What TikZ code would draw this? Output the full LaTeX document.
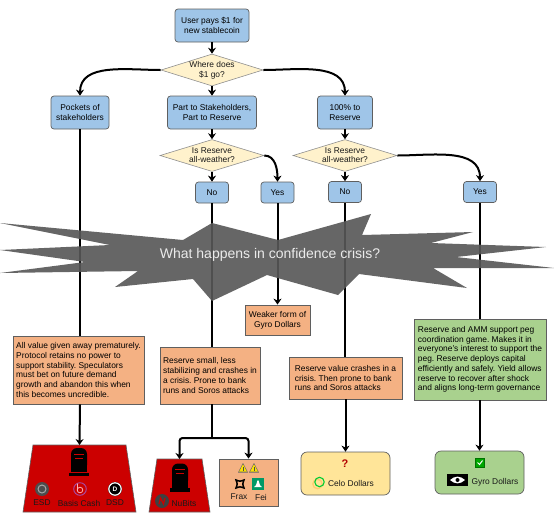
\documentclass[tikz,border=0pt]{standalone}
\usepackage{fontspec}
\setmainfont{Liberation Sans}
\usepackage{tikz}
\usetikzlibrary{arrows.meta, calc, shapes.geometric}
\definecolor{stepblue}{HTML}{9FC5E8}
\definecolor{askcream}{HTML}{FFF2CC}
\definecolor{badorange}{HTML}{F4B183}
\definecolor{goodgreen}{HTML}{A9D18E}
\definecolor{celoyellow}{HTML}{FFE599}
\definecolor{deadred}{HTML}{CC0000}
\definecolor{edgegray}{HTML}{5F5F5F}

\begin{document}
\begin{tikzpicture}[
    x=1pt, y=-1pt,
    every node/.style={font=\fontsize{8.4}{9.7}\selectfont\frenchspacing},
    stepbox/.style={draw=edgegray, fill=stepblue, rounded corners=3, align=center, inner sep=0, line width=0.7pt},
    decision/.style={draw=edgegray!70, fill=askcream, diamond, inner sep=0, line width=0.6pt},
    asktext/.style={align=center, inner sep=0, text=black!90},
    textbox/.style={draw=edgegray, fill=badorange, align=left, inner sep=0, line width=0.8pt},
    outcome/.style={draw=edgegray, rounded corners=6, inner sep=0, line width=0.7pt},
    grave/.style={draw=edgegray, fill=deadred, line width=0.6pt},
    coinlabel/.style={inner sep=0, text=black!90},
    flow/.style={line width=2pt, -{Stealth[length=6pt, width=8pt]}},
    plainflow/.style={line width=2pt},
    tombstone/.pic={
      \fill[black, rounded corners=6] (-8,9) -- (-8,-14) -- (8,-14) -- (8,9) -- cycle;
      \fill[black] (-8,-2) rectangle (8,10);
      \fill[black] (-10,10.5) rectangle (10,14);
      \fill[deadred] (-5,-8.5) rectangle (5,-7.5);
      \fill[deadred] (-4,-4.5) rectangle (4,-3.5);
    },
    warnsign/.pic={
      \fill[black!60, line join=round] (0,-5) -- (5,4.5) -- (-5,4.5) -- cycle;
      \fill[yellow!85!orange] (0,-3.7) -- (3.9,3.7) -- (-3.9,3.7) -- cycle;
      \fill[black!70] (-0.5,-1.2) rectangle (0.5,1.5);
      \fill[black!70] (-0.5,2.2) rectangle (0.5,3.2);
    }
]
\useasboundingbox (0,0) rectangle (554,523);
% top of the flow
\node[stepbox, minimum width=74, minimum height=33] (user) at (212,25.5) {User pays \$1 for\\new stablecoin};
\node[decision, minimum width=102, minimum height=32] (where) at (212,70) {};
\node[asktext] (wheretext) at (212,70) {Where does\\\$1 go?};
\node[stepbox, minimum width=58, minimum height=33] (pockets) at (80,112.5) {Pockets of\\stakeholders};
\node[stepbox, minimum width=89, minimum height=33] (part) at (212,112.5) {Part to Stakeholders,\\Part to Reserve};
\node[stepbox, minimum width=55, minimum height=33] (full) at (345,112.5) {100\% to\\Reserve};
% reserve questions
\foreach \r/\x in {a/212, b/345} {
  \node[decision, minimum width=104, minimum height=32] (ask\r) at (\x,155.5) {};
  \node[asktext] (ask\r text) at (\x,155) {Is Reserve\\all-weather?};
}
\node[stepbox, minimum width=33, minimum height=21] (noa) at (212,192.5) {No};
\node[stepbox, minimum width=33, minimum height=21] (yesa) at (277.5,192.5) {Yes};
\node[stepbox, minimum width=33, minimum height=21] (nob) at (345,192) {No};
\node[stepbox, minimum width=33, minimum height=21] (yesb) at (480,192) {Yes};
% what happens afterwards
\node[textbox, minimum width=131, minimum height=68] (allvalue) at (78.5,370)
  {All value given away prematurely.\\Protocol retains no power to\\support stability. Speculators\\must bet on future demand\\growth and abandon this when\\this becomes uncredible.};
\node[textbox, minimum width=100, minimum height=57] (rsmall) at (210,375.5)
  {Reserve small, less\\stabilizing and crashes in\\a crisis. Prone to bank\\runs and Soros attacks};
\node[textbox, minimum width=65, minimum height=30, align=center] (weaker) at (277.5,320)
  {Weaker form of\\Gyro Dollars};
\node[textbox, minimum width=113, minimum height=42] (rvalue) at (345.5,378)
  {Reserve value crashes in a\\crisis. Then prone to bank\\runs and Soros attacks};
\node[textbox, fill=goodgreen, minimum width=132, minimum height=81] (reserveamm) at (480,359.5)
  {Reserve and AMM support peg\\coordination game. Makes it in\\everyone's interest to support the\\peg. Reserve deploys capital\\efficiently and safely. Yield allows\\reserve to recover after shock\\and aligns long-term governance};
% end results
\draw[grave] (33,445) -- (126,445) -- (136,512) -- (23,512) -- cycle;
\draw[grave] (157,459) -- (202,459) -- (210,512) -- (149,512) -- cycle;
\coordinate (gravea) at (79.5,445);
\coordinate (graveb) at (179.5,459);
\node[textbox, minimum width=59, minimum height=47] (fraxbox) at (248.5,482.5) {};
\node[outcome, fill=celoyellow, minimum width=89, minimum height=43] (celobox) at (345.5,473.5) {};
\node[outcome, fill=goodgreen, minimum width=89, minimum height=43] (gyrobox) at (479.5,472.5) {};
\coordinate (split) at (212,438);
% connectors
\draw[flow] (user) -- (where);
\draw[flow] (where) -- (part);
\draw[flow] (where.west) to[out=180, in=90] (pockets.north);
\draw[flow] (where.east) to[out=0, in=90] (full.north);
\draw[flow] (part) -- (aska);
\draw[flow] (full) -- (askb);
\draw[flow] (aska) -- (noa);
\draw[flow] (askb) -- (nob);
\draw[flow] (aska.east) to[out=0, in=90] (yesa.north);
\draw[flow] (askb.east) to[out=0, in=90] (yesb.north);
\draw[plainflow] (pockets) -- (allvalue.north -| pockets);
\draw[plainflow] (noa) -- (noa |- rsmall.north);
\draw[plainflow] (nob) -- (nob |- rvalue.north);
\draw[plainflow] (yesb) -- (reserveamm);
\draw[flow] (yesa) -- (weaker);
\draw[flow] (allvalue.south -| pockets) -- (gravea);
\draw[plainflow] (split |- rsmall.south) -- (split);
\draw[flow, rounded corners=3] (split) -| (graveb);
\draw[flow, rounded corners=3] (split) -| (fraxbox.north);
\draw[flow] (rvalue.south -| celobox) -- (celobox);
\draw[flow] (reserveamm.south -| gyrobox) -- (gyrobox);
% the crisis star
\fill[black!66, opacity=0.91] (0,223) -- (183,240) -- (212,223) -- (278,240) -- (371,214) -- (362,235)
  -- (473,232) -- (431,243) -- (546,247) -- (456,257) -- (554,268) -- (433,268) -- (467,288)
  -- (359,274) -- (338,295) -- (267,275) -- (212,301) -- (193,279) -- (115,287) -- (138,271) -- (0,273)
  -- (85,262) -- (0,250) -- (110,245) -- cycle;
\node[font=\fontsize{14}{16}\selectfont, text=black!8, inner sep=0] (crisis) at (270,255) {What happens in confidence crisis?};
% left grave
\pic at (79,462) {tombstone};
\fill[black!70] (42,489) circle (7);
\draw[black!35, line width=1pt] (42,489) circle (4);
\draw[violet!70!white, line width=0.9pt] (80,489) circle (6.3);
\draw[white!70!red, line width=0.8pt] (77.5,483.5) -- (77.5,491) (80,490) circle (2.8);
\fill[black] (115,489) circle (7);
\draw[white, line width=1.2pt] (115,489) circle (6.2);
\node[coinlabel, font=\fontsize{6.5}{7}\selectfont\bfseries, text=white] (dsdmark) at (115,489) {D};
\foreach \nm/\x/\t in {esd/42/ESD, basis/79/Basis Cash, dsd/115/DSD} {
  \node[coinlabel] (\nm) at (\x,503) {\t};
}
% right grave
\pic at (180,477.5) {tombstone};
\fill[black!75] (162,501) circle (7);
\draw[deadred, line width=1.2pt] (159,504) -- (160.5,498) -- (163.5,504) -- (165,498);
\node[coinlabel] (nubits) at (184,503) {NuBits};
% frax and fei
\pic at (243,468) {warnsign};
\pic at (254,468) {warnsign};
\draw[black, line width=1.5pt, fill=badorange] (236,480) .. controls (240,481.5) .. (244,480) .. controls (242.5,484) .. (244,488) .. controls (240,486.5) .. (236,488) .. controls (237.5,484) .. (236,480) -- cycle;
\fill[teal!80!green] (252,478) rectangle (264,490);
\fill[white] (254,487) .. controls (257,486) and (256.5,481) .. (258,480) .. controls (259.5,481) and (259,486) .. (262,487) -- cycle;
\node[coinlabel] (frax) at (239,497) {Frax};
\node[coinlabel] (fei) at (261,497) {Fei};
% celo
\node[coinlabel, font=\fontsize{11}{12}\selectfont\bfseries, text=red!70!black] (unsure) at (345,463.5) {?};
\draw[celoyellow!75!orange, line width=1.3pt] (317.5,484) circle (4.7);
\draw[green!60!teal, line width=1.1pt] (319.5,482) circle (4.7);
\node[coinlabel] (celo) at (351,483.5) {Celo Dollars};
% gyro
\draw[green!45!black, fill=green!65!black, line width=0.5pt] (475.5,458) rectangle (484.5,467);
\draw[white, line width=1pt] (477.5,462.5) -- (479.5,464.5) -- (482.5,460.5);
\fill[black] (447,474) rectangle (468,486);
\fill[white] (450,480) .. controls (455,475.5) and (460,475.5) .. (465,480) .. controls (460,484.5) and (455,484.5) .. (450,480) -- cycle;
\fill[black] (457.5,480) circle (2);
\node[coinlabel] (gyro) at (495,482.5) {Gyro Dollars};
\end{tikzpicture}
\end{document}
